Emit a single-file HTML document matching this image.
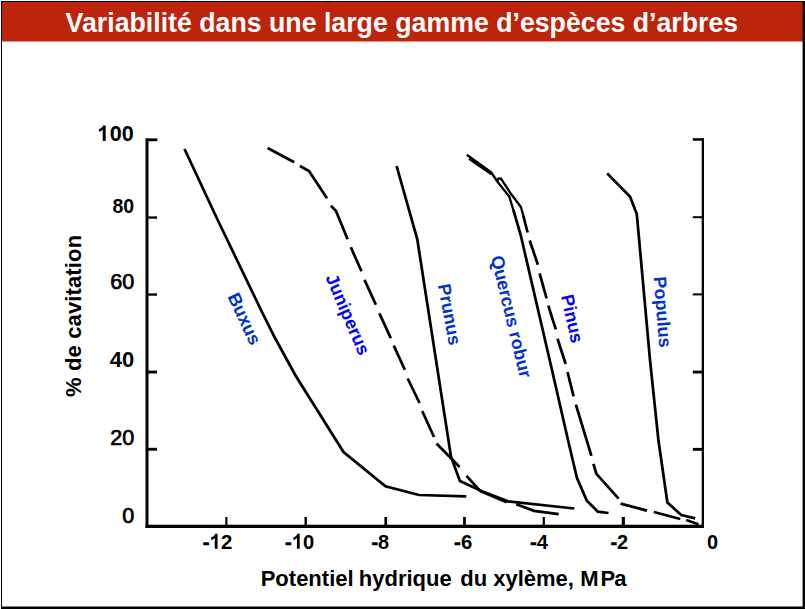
<!DOCTYPE html>
<html>
<head>
<meta charset="utf-8">
<title>Variabilité dans une large gamme d’espèces d’arbres</title>
<style>
html,body{margin:0;padding:0;background:#fff;}
body{width:805px;height:609px;overflow:hidden;position:relative;font-family:"Liberation Sans",sans-serif;}
svg{position:absolute;left:0;top:0;display:block;}
text{font-family:"Liberation Sans",sans-serif;font-weight:bold;}
.semi{font-weight:normal;stroke-width:0.7px;}
</style>
</head>
<body>
<svg width="805" height="609" viewBox="0 0 805 609">
  <!-- background & frame -->
  <rect x="0" y="0" width="805" height="609" fill="#ffffff"/>
  <rect x="2" y="2" width="801" height="39.5" fill="#bc240c"/>
  <rect x="1" y="1" width="803" height="1" fill="#000"/>
  <rect x="1" y="1" width="1" height="607" fill="#000"/>
  <rect x="802.6" y="1" width="2.4" height="608" fill="#000"/>
  <rect x="1" y="606.5" width="804" height="2.5" fill="#000"/>

  <!-- title -->
  <text transform="translate(401.9,31.7) scale(1.002,1.035)" font-size="26.67" fill="#ffffff" text-anchor="middle">Variabilité dans une large gamme d’espèces d’arbres</text>

  <!-- axes -->
  <g fill="#000">
    <rect x="145.5" y="138.5" width="3" height="389.5"/>
    <rect x="145.5" y="524.7" width="558.5" height="3.3"/>
    <rect x="701.7" y="138.2" width="2.3" height="389.8"/>
    <!-- left ticks -->
    <rect x="146" y="138.4" width="11.3" height="2.8"/>
    <rect x="146" y="216.4" width="11" height="2.3"/>
    <rect x="146" y="293.4" width="11" height="2.3"/>
    <rect x="146" y="370.6" width="11" height="2.9"/>
    <rect x="146" y="447.8" width="11" height="2.9"/>
    <!-- right ticks -->
    <rect x="692.8" y="138.2" width="10" height="2.5"/>
    <rect x="692.8" y="216.2" width="10" height="2"/>
    <rect x="692.8" y="293.4" width="10" height="2"/>
    <rect x="692.8" y="370.6" width="10" height="2.9"/>
    <rect x="692.8" y="447.9" width="10" height="2.9"/>
    <!-- bottom ticks -->
    <rect x="225.3" y="517" width="2.1" height="9"/>
    <rect x="304.5" y="517" width="2.4" height="9"/>
    <rect x="384.4" y="517" width="2.7" height="9"/>
    <rect x="463.1" y="517" width="2.7" height="9"/>
    <rect x="542.7" y="517" width="2.2" height="9"/>
    <rect x="621.8" y="517" width="3.1" height="9"/>
  </g>

  <!-- y tick labels -->
  <g fill="#000" stroke="#000" stroke-width="0">
    <g transform="translate(133.7,140.9) scale(1,1)" font-size="21.6"><path transform="translate(-36.5,0) scale(0.01055,-0.01055)" d="M806,0H524V1057Q370,913 161,844V1099Q271,1135 400,1235.5Q529,1336 577,1470H806Z"/><text x="-24.02" y="0">0</text><text x="-12.01" y="0">0</text></g>
    <g transform="translate(134.2,212.9) scale(0.93,1)" font-size="21"><text x="-23.35" y="0">8</text><text x="-11.68" y="0">0</text></g>
    <g transform="translate(134.3,288.7) scale(1,1)" font-size="21.6"><text x="-24.02" y="0" class="semi">6</text><text x="-12.01" y="0" class="semi">0</text></g>
    <g transform="translate(134.3,367) scale(1,1)" font-size="22"><text x="-24.46" y="0">4</text><text x="-12.23" y="0">0</text></g>
    <g transform="translate(134.3,444.8) scale(1,1)" font-size="21.6"><text x="-24.02" y="0" class="semi">2</text><text x="-12.01" y="0" class="semi">0</text></g>
    <g transform="translate(134.3,522.8) scale(1,1)" font-size="21.6"><text x="-12.01" y="0" class="semi">0</text></g>
  </g>
  <!-- x tick labels -->
  <g fill="#000" stroke="#000" stroke-width="0">
    <g transform="translate(232.2,548.8) scale(0.97,1)" font-size="21"><text x="-30.35" y="0" stroke-width="0.6">-</text><path transform="translate(-23.35,0) scale(0.01025,-0.01025)" d="M806,0H524V1057Q370,913 161,844V1099Q271,1135 400,1235.5Q529,1336 577,1470H806Z"/><text x="-11.68" y="0">2</text></g>
    <g transform="translate(314.2,548.8) scale(0.96,1)" font-size="21"><text x="-30.35" y="0" stroke-width="0.6">-</text><path transform="translate(-23.35,0) scale(0.01025,-0.01025)" d="M806,0H524V1057Q370,913 161,844V1099Q271,1135 400,1235.5Q529,1336 577,1470H806Z"/><text x="-11.68" y="0">0</text></g>
    <g transform="translate(389.2,548.8) scale(0.95,1)" font-size="21"><text x="-18.67" y="0" stroke-width="0.6">-</text><text x="-11.68" y="0">8</text></g>
    <g transform="translate(472.2,548.8) scale(0.97,1)" font-size="21"><text x="-18.67" y="0" stroke-width="0.6">-</text><text x="-11.68" y="0">6</text></g>
    <g transform="translate(548,548.8) scale(0.96,1)" font-size="21"><text x="-18.67" y="0" stroke-width="0.6">-</text><text x="-11.68" y="0">4</text></g>
    <g transform="translate(628.2,548.8) scale(0.95,1)" font-size="21"><text x="-18.67" y="0" stroke-width="0.6">-</text><text x="-11.68" y="0">2</text></g>
    <g transform="translate(718.2,548.8) scale(0.95,1)" font-size="21"><text x="-11.68" y="0">0</text></g>
  </g>

  <!-- axis titles -->
  <g font-size="22" fill="#000"><text x="260.7" y="586">Potentiel</text><text x="358.8" y="586">hydrique</text><text x="460.2" y="586">du</text><text x="493.2" y="586">xylème,</text><text x="580.3" y="586">M</text><text x="600.6" y="586">P</text><text x="614.3" y="586">a</text></g>
  <text transform="translate(81.2,396.9) rotate(-90)" font-size="22" letter-spacing="0.13" fill="#000">% de cavitation</text>

  <!-- curves -->
  <g fill="none" stroke="#000" stroke-width="2.75" stroke-linejoin="miter" stroke-linecap="butt">
    <!-- Buxus -->
    <polyline points="184.5,149 217.7,220 261,310 274.5,337 295.5,375.5 343.5,452 385.5,486.3 419,495 466.3,496.3"/>
    <!-- Prunus -->
    <polyline points="396.6,166 417.3,239.4 451,456.6 459.9,481 482,491.3 508,501.3 574.3,508.5"/>
    <!-- Quercus -->
    <polyline stroke-width="2.3" points="466.8,154.8 491.2,172.3 497.1,181.2 509.3,196.6 514,212"/>
    <polyline points="513.4,210 520.7,235 552,370 568,440 576.9,477.8 586.8,500.6 597.8,511.6 608.5,513"/>
    <!-- Populus -->
    <polyline points="607.2,173.4 630.1,196.8 636.8,214 650,360 658.4,440 667.4,502.6 681.3,515 695.2,518.3"/>
    <!-- Juniperus dashes -->
    <polyline points="267.6,148 294.2,162.3"/>
    <polyline points="299.9,166 309,171 327,198.3"/>
    <polyline points="330.9,205.8 336,211 347.6,239.3"/>
    <polyline points="350.8,247.3 361.5,271.2"/>
    <polyline points="364.5,279.9 375.9,304.7"/>
    <polyline points="379.4,313.4 390.8,338.3"/>
    <polyline points="393.8,345.6 404.8,369.7"/>
    <polyline points="407.7,378.5 419.5,403"/>
    <polyline points="422.2,411 434,437"/>
    <polyline points="436.5,443.5 459.6,467"/>
    <polyline points="466.5,475.8 480.4,491.2 506.6,502.2"/>
    <polyline points="516.3,504.2 534,510.9 558.7,514.2"/>
    <!-- Pinus dashes -->
    <polyline stroke-width="2.3" points="469,158.8 491.5,174.2"/>
    <polyline stroke-width="2.3" stroke-linejoin="round" points="497.5,181 498.3,178.6 500.8,178.3 511.3,194.3 520.9,207 524,218"/>
    <polyline points="523.4,216 527.6,232.5"/>
    <polyline points="529.7,240.5 537.9,264.7"/>
    <polyline points="539.6,273.4 546.6,298.3"/>
    <polyline points="548.3,305.7 555.8,329.3"/>
    <polyline points="557.5,338.8 565.7,364"/>
    <polyline points="567.5,372 573.6,396.3"/>
    <polyline points="575.9,404.7 591.4,455.9"/>
    <polyline points="593.4,463.9 596.4,473.8 618.6,498.6"/>
    <polyline points="620.6,503.6 647,510.6"/>
    <polyline points="653.8,512 680.3,519"/>
    <polyline points="686.2,520 698.4,524.2"/>
  </g>

  <!-- species labels -->
  <g font-size="18">
    <text transform="translate(244.3,318.8) rotate(65)" text-anchor="middle" dy="6" fill="#0033cc">Buxus</text>
    <text transform="translate(347.7,314.5) rotate(66.7)" text-anchor="middle" dy="6" fill="#0000ff">Juniperus</text>
    <text transform="translate(449.3,314.4) rotate(79.3)" text-anchor="middle" dy="6" fill="#0033cc">Prunus</text>
    <text transform="translate(511.2,316.6) rotate(76.4)" text-anchor="middle" dy="6" fill="#0033cc">Quercus robur</text>
    <text transform="translate(572,318.7) rotate(77.6)" text-anchor="middle" dy="6" fill="#0000ff">Pinus</text>
    <text transform="translate(662.4,312) rotate(85.3)" text-anchor="middle" dy="6" fill="#0033cc">Populus</text>
  </g>
</svg>
</body>
</html>
